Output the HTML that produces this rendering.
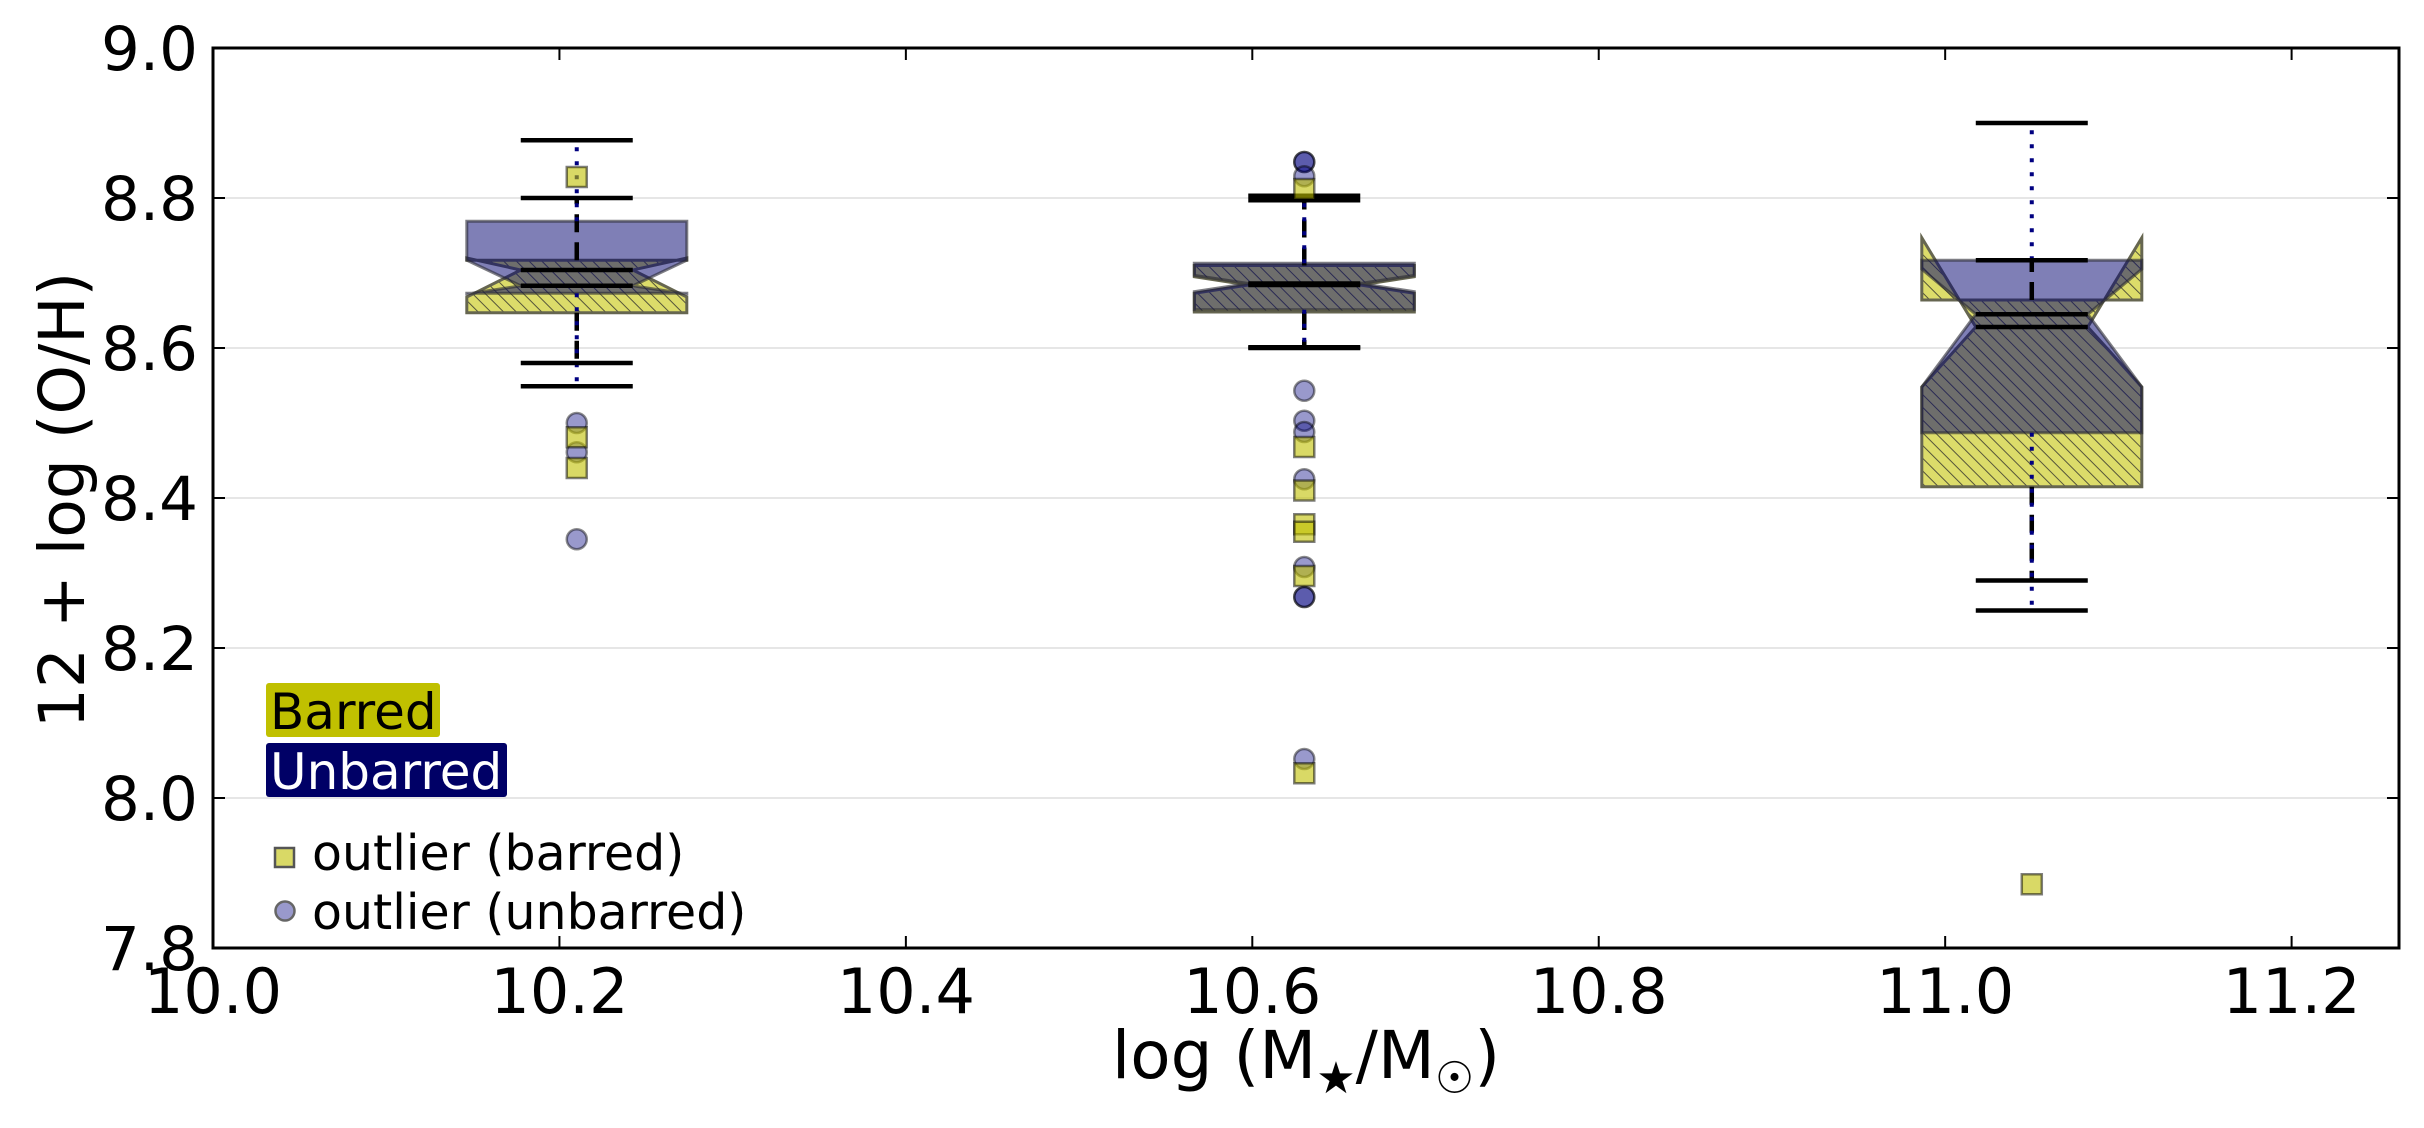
<!DOCTYPE html>
<html><head><meta charset="utf-8"><style>
html,body{margin:0;padding:0;background:#fff;}
svg{display:block;font-family:"DejaVu Sans","Liberation Sans",sans-serif;}
</style></head><body>
<svg id="chart" width="2424" height="1128" viewBox="0 0 2424 1128" xmlns="http://www.w3.org/2000/svg">
<defs>
<pattern id="hatch" patternUnits="userSpaceOnUse" width="9" height="9" patternTransform="rotate(-45)">
<rect width="9" height="9" fill="#dcdc6a"/>
<line x1="0" y1="0" x2="0" y2="9" stroke="#55553a" stroke-width="2"/>
</pattern>
<clipPath id="plotclip"><rect x="213" y="48" width="2186" height="900"/></clipPath>
</defs>
<rect width="2424" height="1128" fill="#fff"/>
<g id="grid"></g>
<g id="boxes" clip-path="url(#plotclip)"></g>
<rect x="213" y="48" width="2186" height="900" fill="none" stroke="#000" stroke-width="3"/>
<g id="ticks"></g>
<text x="84" y="500" font-size="63" text-anchor="middle" transform="rotate(-90 84 500)">12 + log (O/H)</text>
<text x="1306" y="1078" font-size="66" text-anchor="middle">log (M<tspan font-size="44" dy="15">★</tspan><tspan dy="-15">/M</tspan><tspan font-size="44" dy="15">☉</tspan><tspan dy="-15">)</tspan></text>
<g>
<rect x="266" y="683" width="174" height="54" rx="3" fill="#c0c000"/>
<text x="270" y="729" font-size="50" fill="#000">Barred</text>
<rect x="266" y="743" width="241" height="54" rx="3" fill="#000066"/>
<text x="270" y="789" font-size="50" fill="#fff">Unbarred</text>
<rect x="275" y="848" width="19" height="19" fill="#d9d966" stroke="#555" stroke-width="2.5"/>
<text x="312" y="870" font-size="49">outlier (barred)</text>
<circle cx="285" cy="911" r="9.5" fill="#9999cc" stroke="#666" stroke-width="2.5"/>
<text x="312" y="929" font-size="49">outlier (unbarred)</text>
</g>
</svg>
<script>
const xTicks = [10.0, 10.2, 10.4, 10.6, 10.8, 11.0, 11.2];
const xTickLabels = ["10.0","10.2","10.4","10.6","10.8","11.0","11.2"];
const yTicks = [7.8, 8.0, 8.2, 8.4, 8.6, 8.8, 9.0];
const yTickLabels = ["7.8","8.0","8.2","8.4","8.6","8.8","9.0"];
const positions = [10.21, 10.63, 11.05];
const barredQ1 = [8.647, 8.648, 8.415];
const barredMed = [8.704, 8.684, 8.628];
const barredQ3 = [8.717, 8.710, 8.664];
const barredNotchLo = [8.668, 8.673, 8.548];
const barredNotchHi = [8.720, 8.695, 8.747];
const barredWhisLo = [8.58, 8.60, 8.29];
const barredWhisHi = [8.80, 8.797, 8.717];
const unbarredQ1 = [8.673, 8.651, 8.487];
const unbarredMed = [8.683, 8.686, 8.645];
const unbarredQ3 = [8.769, 8.713, 8.717];
const unbarredNotchLo = [8.672, 8.675, 8.548];
const unbarredNotchHi = [8.717, 8.697, 8.705];
const unbarredWhisLo = [8.549, 8.601, 8.25];
const unbarredWhisHi = [8.877, 8.803, 8.90];
const barredOut0 = [8.828, 8.481, 8.44];
const barredOut1 = [8.812, 8.468, 8.41, 8.365, 8.355, 8.296, 8.033];
const barredOut2 = [7.885];
const unbarredOut0 = [8.50, 8.461, 8.345];
const unbarredOut1 = [8.848, 8.848, 8.829, 8.543, 8.503, 8.488, 8.425, 8.308, 8.268, 8.268, 8.052];
const unbarredOut2 = [];

const X0=213, X1=2399, Y0=48, Y1=948, XMIN=10.0, XMAX=11.262, YMIN=7.8, YMAX=9.0;
function xS(v){return X0+(v-XMIN)/(XMAX-XMIN)*(X1-X0);}
function yS(v){return Y1-(v-YMIN)/(YMAX-YMIN)*(Y1-Y0);}
const NS="http://www.w3.org/2000/svg";
function mk(tag,attrs,parent){const e=document.createElementNS(NS,tag);for(const k in attrs)e.setAttribute(k,attrs[k]);parent.appendChild(e);return e;}
const grid=document.getElementById('grid'), ticks=document.getElementById('ticks'), boxes=document.getElementById('boxes');

yTicks.forEach((v,i)=>{
  const y=yS(v);
  if(i>0&&i<yTicks.length-1){const g=mk('line',{x1:X0,x2:X1,y1:y,y2:y,stroke:'#e6e6e6','stroke-width':2},grid);
  
  }
  const t1=mk('line',{x1:X0,x2:X0+12,y1:y,y2:y,stroke:'#000','stroke-width':2},ticks);
  
  
  const t2=mk('line',{x1:X1-12,x2:X1,y1:y,y2:y,stroke:'#000','stroke-width':2},ticks);
  
  
  const tx=mk('text',{x:198,y:y+22,'font-size':61,'text-anchor':'end'},ticks);
  tx.textContent=yTickLabels[i];
  
  
});
xTicks.forEach((v,i)=>{
  const x=xS(v);
  const t1=mk('line',{x1:x,x2:x,y1:Y1-12,y2:Y1,stroke:'#000','stroke-width':2},ticks);
  
  
  const t2=mk('line',{x1:x,x2:x,y1:Y0,y2:Y0+12,stroke:'#000','stroke-width':2},ticks);
  
  
  const tx=mk('text',{x:x,y:1013,'font-size':62,'text-anchor':'middle'},ticks);
  tx.textContent=xTickLabels[i];
  
  
});

const HW=110, IW=56;
function boxPath(cx,q1,nl,md,nh,q3){
  const L=cx-HW,R=cx+HW,Li=cx-IW,Ri=cx+IW;
  const p=[[L,q1],[R,q1],[R,nl],[Ri,md],[R,nh],[R,q3],[L,q3],[L,nh],[Li,md],[L,nl]];
  return 'M'+p.map(a=>a[0].toFixed(1)+','+yS(a[1]).toFixed(1)).join('L')+'Z';
}
positions.forEach((p,i)=>{
  const b=mk('path',{d:boxPath(xS(p),barredQ1[i],barredNotchLo[i],barredMed[i],barredNotchHi[i],barredQ3[i]),fill:'url(#hatch)',stroke:'#666650','stroke-width':3},boxes);
  
  
});
positions.forEach((p,i)=>{
  const b=mk('path',{d:boxPath(xS(p),unbarredQ1[i],unbarredNotchLo[i],unbarredMed[i],unbarredNotchHi[i],unbarredQ3[i]),fill:'rgba(0,0,110,0.5)',stroke:'rgba(40,40,50,0.6)','stroke-width':3},boxes);
  
  
});
function seg(x,a,b,attrs,name){
  const l=mk('line',Object.assign({x1:x,x2:x,y1:yS(a),y2:yS(b)},attrs),boxes);
  
  
}
function cap(x,v,name){
  const l=mk('line',{x1:x-IW,x2:x+IW,y1:yS(v),y2:yS(v),stroke:'#000','stroke-width':4.5},boxes);
  
  
}
positions.forEach((p,i)=>{
  const x=xS(p);
  const dash={stroke:'#000','stroke-width':4.5,'stroke-dasharray':'18,10'};
  seg(x,barredQ3[i],barredWhisHi[i],dash,'barred-whisker-upper');
  seg(x,barredQ1[i],barredWhisLo[i],dash,'barred-whisker-lower');
  const dot={stroke:'#000080','stroke-width':4,'stroke-dasharray':'4,10'};
  seg(x,unbarredQ3[i],unbarredWhisHi[i],dot,'unbarred-whisker-upper');
  seg(x,unbarredQ1[i],unbarredWhisLo[i],dot,'unbarred-whisker-lower');
  cap(x,barredWhisHi[i],'barred-cap-upper');
  cap(x,barredWhisLo[i],'barred-cap-lower');
  cap(x,unbarredWhisHi[i],'unbarred-cap-upper');
  cap(x,unbarredWhisLo[i],'unbarred-cap-lower');
  cap(x,barredMed[i],'barred-median');
  cap(x,unbarredMed[i],'unbarred-median');
});
const bOut=[barredOut0,barredOut1,barredOut2], uOut=[unbarredOut0,unbarredOut1,unbarredOut2];
positions.forEach((p,i)=>{
  const x=xS(p);
  uOut[i].forEach(v=>{
    const c=mk('circle',{cx:x,cy:yS(v),r:10,fill:'rgba(0,0,128,0.4)',stroke:'rgba(0,0,0,0.45)','stroke-width':2.5},boxes);
    
    
  });
  bOut[i].forEach(v=>{
    const s=mk('rect',{x:x-10,y:yS(v)-10,width:20,height:20,fill:'rgba(192,192,0,0.6)',stroke:'rgba(0,0,0,0.5)','stroke-width':2.5},boxes);
    
    
  });
});
</script>
</body></html>
